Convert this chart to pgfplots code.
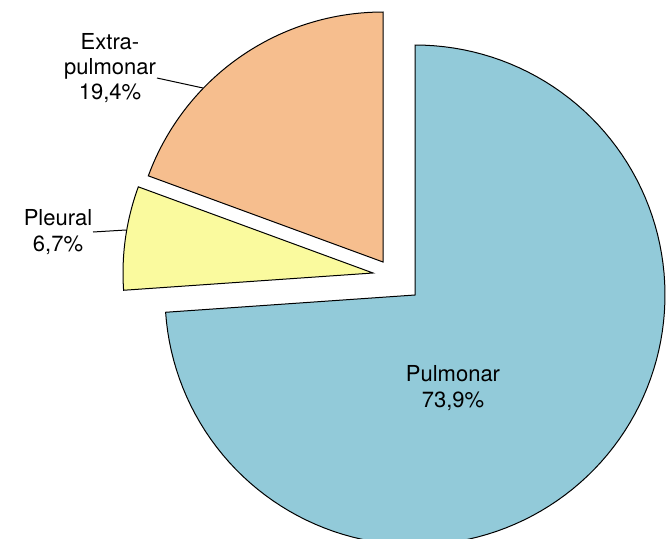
\documentclass[border=0pt]{standalone}
\usepackage{pgfplots}
\pgfplotsset{compat=1.18}
\usepackage{fontspec}
\setmainfont{TeX Gyre Heros}
\definecolor{pulmC}{RGB}{146,202,217}
\definecolor{extraC}{RGB}{246,190,142}
\definecolor{pleuC}{RGB}{250,250,158}
% shares (percent)
\def\vPulm{73.9}
\def\vPleu{6.7}
\def\vExtra{19.4}
\begin{document}
\begin{tikzpicture}
\begin{axis}[
  scale only axis, width=335pt, height=269pt,
  xmin=0, xmax=670, ymin=0, ymax=538,
  hide axis, clip=true,
]
\coordinate (ll) at (rel axis cs:0,0);
\coordinate (ur) at (rel axis cs:1,1);
% Pulmonar: clockwise from 90 deg
\addplot[fill=pulmC, draw=black, line width=0.5pt, domain={90-3.6*\vPulm}:90, samples=120, variable=\t]
  ({415+250*cos(t)}, {243+250*sin(t)}) -- (axis cs:415,243) -- cycle;
% Pleural
\addplot[fill=pleuC, draw=black, line width=0.5pt, domain={90-3.6*(\vPulm+\vPleu)}:{90-3.6*\vPulm}, samples=30, variable=\t]
  ({373+250*cos(t)}, {265+250*sin(t)}) -- (axis cs:373,265) -- cycle;
% Extra-pulmonar
\addplot[fill=extraC, draw=black, line width=0.5pt, domain={90-3.6*(\vPulm+\vPleu+\vExtra)}:{90-3.6*(\vPulm+\vPleu)}, samples=60, variable=\t]
  ({383+250*cos(t)}, {276+250*sin(t)}) -- (axis cs:383,276) -- cycle;
% leader lines
\draw[black, line width=0.5pt] (axis cs:157,460) -- (axis cs:203,450);
\draw[black, line width=0.5pt] (axis cs:93,306) -- (axis cs:126,308);
% labels
\node[align=center, font=\fontsize{11}{12.6}\selectfont] at (axis cs:110,470) {Extra-\\pulmonar\\19,4\%};
\node[align=center, font=\fontsize{11}{12.6}\selectfont] at (axis cs:58,306) {Pleural\\6,7\%};
\node[align=center, font=\fontsize{11}{12.6}\selectfont] at (axis cs:453,150) {Pulmonar\\73,9\%};
\end{axis}
\pgfresetboundingbox
\path (ll) rectangle (ur);
\end{tikzpicture}
\end{document}
